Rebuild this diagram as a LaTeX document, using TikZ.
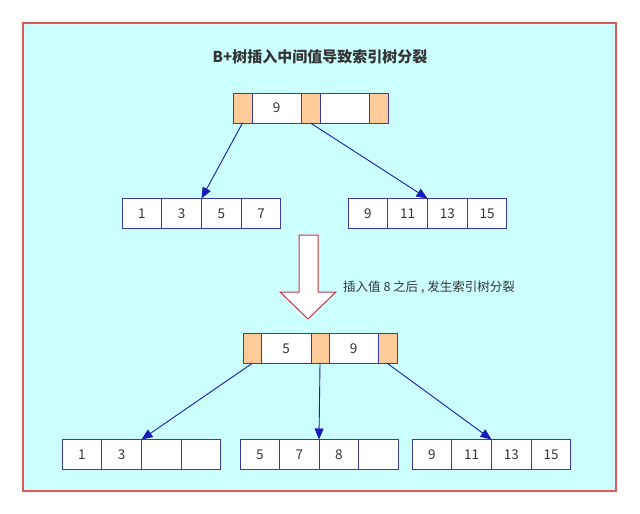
\documentclass[tikz,border=0pt]{standalone}
\usepackage{fontspec}
\setmainfont{Noto Sans CJK SC}
\usetikzlibrary{arrows.meta}
\definecolor{bgcyan}{HTML}{CCFFFF}
\definecolor{framered}{HTML}{E05A5A}
\definecolor{boxblue}{HTML}{3A3AAA}
\definecolor{keyorange}{HTML}{FFCC99}
\definecolor{linkblue}{HTML}{1A1AB8}
\definecolor{bigred}{HTML}{CC3344}
\definecolor{txt}{HTML}{333333}
\tikzset{
  cell/.style={draw=boxblue, fill=white, line width=1pt, minimum height=30pt,
    minimum width=39.75pt, inner sep=0pt, outer sep=0pt, text=txt,
    font=\fontsize{13.5}{15}\selectfont},
  ocell/.style={cell, fill=keyorange},
  link/.style={draw=linkblue, line width=0.9pt, -{Triangle[length=11pt,width=9pt]}},
}
\begin{document}
\begin{tikzpicture}[x=1pt,y=-1pt]
\useasboundingbox (0,0) rectangle (640,514);
\fill[white] (0,0) rectangle (640,514);
\draw[framered, fill=bgcyan, line width=1.2pt] (23,23) rectangle (616,491);

\node[text=txt, font=\fontsize{15}{18}\selectfont\bfseries] (title) at (320,57) {B+树插入中间值导致索引树分裂};

% first tree, root
\node[ocell, minimum width=19pt] (ao1) at (242.5,108) {};
\node[cell, minimum width=49pt] (aw1) at (276.5,108) {9};
\node[ocell, minimum width=19pt] (ao2) at (310.5,108) {};
\node[cell, minimum width=49pt] (aw2) at (344.5,108) {};
\node[ocell, minimum width=19pt] (ao3) at (378.5,108) {};

% first tree, leaves
\node[cell] (l1) at (141.9,213.5) {1};
\node[cell] (l2) at (181.6,213.5) {3};
\node[cell] (l3) at (221.4,213.5) {5};
\node[cell] (l4) at (261.1,213.5) {7};
\node[cell] (r1) at (367.9,213.5) {9};
\node[cell] (r2) at (407.6,213.5) {11};
\node[cell] (r3) at (447.4,213.5) {13};
\node[cell] (r4) at (487.1,213.5) {15};

\draw[link] (ao1.south) -- (l2.north east);
\draw[link] (ao2.south) -- (r2.north east);

% big hollow arrow
\draw[bigred, fill=white, line width=1pt] (299,235) -- (318,235) -- (318,292) -- (336,292)
  -- (308,319) -- (280,292) -- (299,292) -- cycle;
\node[anchor=west, text=txt, font=\fontsize{12.5}{14}\selectfont, inner sep=0pt] (note) at (343,287)
  {插入值 8 之后 , 发生索引树分裂};

% second tree, root
\node[ocell, minimum width=18pt] (bo1) at (252,348.5) {};
\node[cell, minimum width=50pt] (bw1) at (286,348.5) {5};
\node[ocell, minimum width=18pt] (bo2) at (320,348.5) {};
\node[cell, minimum width=49pt] (bw2) at (353.5,348.5) {9};
\node[ocell, minimum width=19pt] (bo3) at (387.5,348.5) {};

% second tree, leaves
\node[cell] (p1) at (81.9,454.5) {1};
\node[cell] (p2) at (121.6,454.5) {3};
\node[cell] (p3) at (161.4,454.5) {};
\node[cell] (p4) at (201.1,454.5) {};
\node[cell, minimum width=39.5pt] (q1) at (259.75,454.5) {5};
\node[cell, minimum width=39.5pt] (q2) at (299.25,454.5) {7};
\node[cell, minimum width=39.5pt] (q3) at (338.75,454.5) {8};
\node[cell, minimum width=39.5pt] (q4) at (378.25,454.5) {};
\node[cell] (s1) at (431.9,454.5) {9};
\node[cell] (s2) at (471.6,454.5) {11};
\node[cell] (s3) at (511.4,454.5) {13};
\node[cell] (s4) at (551.1,454.5) {15};

\draw[link] (bo1.south) -- (p2.north east);
\draw[link] (bo2.south) -- (q2.north east);
\draw[link] (bo3.south) -- (s2.north east);
\end{tikzpicture}
\end{document}
